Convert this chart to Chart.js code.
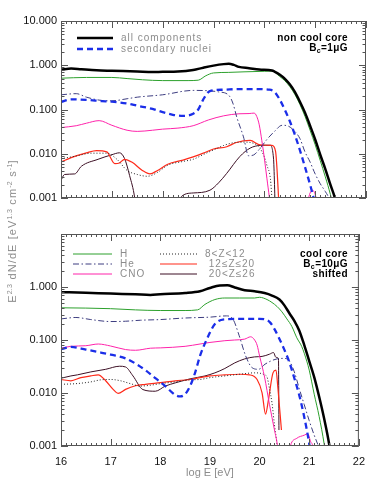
<!DOCTYPE html>
<html>
<head>
<meta charset="utf-8">
<script src="https://cdn.jsdelivr.net/npm/chart.js@4"></script>
<style>
  body { margin: 0; background: #fff; }
  #wrap { position: relative; width: 374px; height: 481px; }
  #wrap canvas { position: absolute; left: 0; top: 0; }
  #ytitle {
    position: absolute; left: -107px; top: 224px; width: 240px; height: 14px;
    line-height: 14px; text-align: center; transform: rotate(-90deg);
    font: 11px "Liberation Sans", sans-serif; color: #8c8c8c; letter-spacing: 1.1px;
    white-space: nowrap;
  }
  #ytitle sup { font-size: 7px; line-height: 0; vertical-align: 4px; letter-spacing: 0.3px; }
</style>
</head>
<body>
<div id="wrap">
  <canvas id="top-chart" width="374" height="481"></canvas>
  <canvas id="bottom-chart" width="374" height="481"></canvas>
  <div id="ytitle">E<sup>2.3</sup> dN/dE [eV<sup>1.3</sup> cm<sup>-2</sup> s<sup>-1</sup>]</div>
</div>
<script>
// axis ticks
const xTicks = [16, 17, 18, 19, 20, 21, 22];
const yTicksTop = [0.001, 0.01, 0.1, 1, 10];
const yTicksBottom = [0.001, 0.01, 0.1, 1];

// series names
const labels = {
  all: 'all components', sec: 'secondary nuclei', H: 'H', He: 'He', CNO: 'CNO',
  mid: '8<Z<12', heavy: ' 12≤Z≤20', fe: ' 20<Z≤26'
};

// panel notes
const topNotes = ['non cool core', 'B_c=1μG'];
const bottomNotes = ['cool core', 'B_c=10μG', 'shifted'];

// ---- top panel: [log E, flux] ----
const topAll = [[16.0,0.79],[16.2,0.84],[16.4,0.81],[16.7,0.77],[17.0,0.75],[17.5,0.72],[17.8,0.70],[18.0,0.71],[18.3,0.72],[18.6,0.78],[18.8,0.88],[19.0,0.98],[19.2,1.06],[19.3,1.08],[19.4,1.02],[19.5,0.92],[19.7,0.86],[19.9,0.80],[20.15,0.76],[20.2,0.72],[20.3,0.62],[20.4,0.50],[20.5,0.37],[20.6,0.25],[20.7,0.15],[20.8,0.085],[20.9,0.043],[21.0,0.021],[21.1,0.0095],[21.2,0.0045],[21.3,0.002],[21.4,0.0009],[21.45,0.0005]];
const topSec = [[16.0,0.148],[16.2,0.17],[16.5,0.165],[16.8,0.155],[17.0,0.15],[17.3,0.137],[17.5,0.122],[17.8,0.103],[18.0,0.087],[18.2,0.076],[18.4,0.072],[18.6,0.08],[18.7,0.10],[18.8,0.17],[18.93,0.26],[19.2,0.28],[19.5,0.29],[19.8,0.29],[20.1,0.28],[20.2,0.25],[20.3,0.17],[20.4,0.10],[20.5,0.055],[20.6,0.027],[20.7,0.012],[20.8,0.005],[20.9,0.002],[20.97,0.001],[21.05,0.0004]];
const topH = [[16.0,0.51],[16.5,0.53],[17.0,0.53],[17.3,0.50],[17.6,0.47],[18.0,0.45],[18.5,0.45],[18.7,0.46],[18.85,0.58],[19.0,0.67],[19.3,0.69],[19.6,0.71],[20.0,0.73],[20.15,0.74],[20.3,0.56],[20.4,0.45],[20.5,0.33],[20.6,0.22],[20.7,0.13],[20.8,0.07],[20.9,0.034],[21.0,0.016],[21.1,0.007],[21.2,0.003],[21.3,0.0012],[21.4,0.0004]];
const topHe = [[16.0,0.215],[16.3,0.228],[16.5,0.19],[16.8,0.16],[17.0,0.157],[17.3,0.175],[17.5,0.19],[18.0,0.215],[18.6,0.27],[18.9,0.265],[19.1,0.25],[19.3,0.21],[19.38,0.14],[19.46,0.066],[19.59,0.024],[19.69,0.009],[19.79,0.0094],[19.92,0.0134],[20.05,0.021],[20.2,0.032],[20.35,0.044],[20.45,0.043],[20.6,0.032],[20.7,0.022],[20.8,0.011],[20.9,0.0065],[21.0,0.0035],[21.1,0.0021],[21.2,0.0014],[21.27,0.001],[21.35,0.0005]];
const topCNO = [[16.0,0.039],[16.3,0.043],[16.5,0.049],[16.75,0.056],[17.0,0.044],[17.3,0.034],[17.5,0.032],[17.8,0.034],[18.0,0.036],[18.3,0.038],[18.6,0.043],[18.9,0.058],[19.2,0.072],[19.5,0.08],[19.7,0.081],[19.8,0.083],[19.85,0.07],[19.9,0.045],[19.95,0.02],[20.0,0.008],[20.05,0.0028],[20.1,0.001],[20.15,0.0003],[20.8,0.0003],[20.87,0.001],[20.95,0.0015],[21.02,0.001],[21.1,0.0003]];
const topMid = [[16.0,0.0077],[16.3,0.0089],[16.6,0.0103],[16.9,0.0103],[17.1,0.0075],[17.3,0.0042],[17.5,0.0034],[17.7,0.0031],[17.9,0.0038],[18.1,0.0055],[18.4,0.0067],[18.6,0.0075],[18.8,0.0096],[19.0,0.0122],[19.2,0.0154],[19.4,0.0178],[19.6,0.0183],[19.8,0.017],[19.9,0.014],[20.0,0.0085],[20.05,0.0055],[20.12,0.0027],[20.15,0.001],[20.2,0.0003]];
const topHeavy = [[16.0,0.0065],[16.2,0.0082],[16.5,0.0105],[16.7,0.0118],[16.9,0.011],[17.06,0.006],[17.15,0.0062],[17.25,0.0075],[17.4,0.0064],[17.6,0.0042],[17.75,0.0035],[17.9,0.0042],[18.1,0.0058],[18.4,0.0072],[18.6,0.0085],[18.8,0.0103],[19.0,0.0128],[19.26,0.0144],[19.45,0.018],[19.72,0.02],[19.92,0.0158],[20.15,0.0155],[20.22,0.0115],[20.28,0.001],[20.3,0.0003]];
const topFe = [[16.0,0.0025],[16.07,0.0034],[16.27,0.0035],[16.4,0.0052],[16.73,0.0075],[17.0,0.0095],[17.15,0.0105],[17.25,0.0078],[17.35,0.0032],[17.45,0.001],[17.5,0.0003],[18.28,0.0003],[18.34,0.001],[18.6,0.0013],[18.93,0.0015],[19.1,0.0022],[19.26,0.0036],[19.52,0.0087],[19.72,0.0134],[19.92,0.0154],[20.11,0.0156],[20.18,0.008],[20.22,0.0003]];

// ---- bottom panel: [log E, flux] ----
const botAll = [[16.0,0.80],[16.5,0.78],[17.0,0.75],[17.5,0.73],[17.8,0.71],[18.0,0.73],[18.5,0.77],[18.8,0.83],[19.0,0.96],[19.2,1.07],[19.35,1.08],[19.5,0.98],[19.7,0.87],[19.9,0.83],[20.1,0.77],[20.25,0.69],[20.4,0.58],[20.5,0.45],[20.6,0.32],[20.7,0.23],[20.8,0.15],[20.9,0.08],[21.0,0.04],[21.1,0.02],[21.2,0.0085],[21.3,0.0033],[21.4,0.0011],[21.45,0.0005]];
const botSec = [[16.0,0.067],[16.2,0.074],[16.5,0.066],[16.8,0.058],[17.0,0.053],[17.3,0.045],[17.5,0.036],[17.7,0.027],[17.9,0.019],[18.1,0.0135],[18.3,0.0092],[18.4,0.0086],[18.5,0.0095],[18.6,0.0135],[18.7,0.024],[18.8,0.05],[18.93,0.10],[19.1,0.2],[19.3,0.245],[19.6,0.25],[20.0,0.25],[20.2,0.22],[20.3,0.16],[20.4,0.105],[20.5,0.065],[20.6,0.038],[20.7,0.019],[20.8,0.009],[20.9,0.0035],[21.0,0.0011],[21.05,0.0005]];
const botH = [[16.0,0.405],[16.5,0.40],[17.0,0.39],[17.5,0.37],[18.0,0.36],[18.5,0.36],[18.75,0.37],[18.9,0.47],[19.1,0.58],[19.3,0.62],[19.6,0.62],[19.9,0.62],[20.0,0.64],[20.15,0.58],[20.25,0.51],[20.35,0.43],[20.45,0.34],[20.55,0.25],[20.65,0.18],[20.75,0.11],[20.85,0.075],[20.95,0.04],[21.0,0.027],[21.1,0.0095],[21.2,0.0036],[21.3,0.0011],[21.35,0.0005]];
const botHe = [[16.0,0.25],[16.3,0.266],[16.6,0.243],[17.0,0.223],[17.3,0.226],[17.6,0.236],[18.0,0.243],[18.5,0.26],[19.0,0.27],[19.33,0.285],[19.46,0.25],[19.59,0.12],[19.72,0.05],[19.85,0.03],[19.98,0.028],[20.11,0.035],[20.35,0.044],[20.5,0.045],[20.6,0.04],[20.7,0.025],[20.8,0.012],[20.9,0.006],[21.0,0.003],[21.1,0.0016],[21.2,0.0009],[21.3,0.0004]];
const botCNO = [[16.0,0.07],[16.2,0.076],[16.5,0.078],[16.75,0.084],[17.0,0.077],[17.3,0.066],[17.5,0.064],[17.8,0.07],[18.0,0.071],[18.5,0.076],[18.8,0.084],[19.0,0.09],[19.3,0.097],[19.5,0.10],[19.7,0.104],[19.82,0.115],[19.9,0.1],[19.95,0.08],[20.0,0.05],[20.1,0.02],[20.2,0.006],[20.3,0.002],[20.36,0.001],[20.4,0.0004],[20.55,0.0004],[20.62,0.001],[20.75,0.0014],[20.9,0.0016],[20.97,0.0017],[21.03,0.0012],[21.07,0.001],[21.12,0.0004]];
const botMid = [[16.0,0.0146],[16.3,0.015],[16.6,0.0162],[16.8,0.0177],[17.0,0.018],[17.2,0.017],[17.4,0.015],[17.6,0.0135],[17.8,0.014],[18.0,0.015],[18.3,0.0162],[18.6,0.0177],[18.8,0.018],[19.0,0.0195],[19.3,0.021],[19.6,0.0226],[19.9,0.024],[20.0,0.0237],[20.1,0.022],[20.15,0.02],[20.2,0.012],[20.25,0.0065],[20.3,0.0025],[20.35,0.0011],[20.4,0.0004]];
const botHeavy = [[16.0,0.018],[16.2,0.017],[16.4,0.0195],[16.6,0.021],[16.75,0.022],[16.9,0.017],[17.05,0.0117],[17.15,0.0098],[17.3,0.0117],[17.5,0.0137],[17.7,0.0146],[18.0,0.0157],[18.3,0.017],[18.6,0.018],[18.8,0.0195],[19.0,0.021],[19.3,0.022],[19.6,0.0226],[19.8,0.022],[19.95,0.018],[20.05,0.0101],[20.12,0.004],[20.18,0.0076],[20.27,0.024],[20.33,0.027],[20.37,0.012],[20.44,0.002]];
const botFe = [[16.0,0.019],[16.2,0.021],[16.33,0.022],[16.6,0.025],[16.9,0.028],[17.18,0.032],[17.3,0.031],[17.45,0.021],[17.65,0.0116],[17.9,0.0108],[18.1,0.0135],[18.3,0.0155],[18.6,0.0185],[18.9,0.021],[19.1,0.024],[19.3,0.029],[19.5,0.037],[19.7,0.044],[19.9,0.048],[20.05,0.049],[20.2,0.054],[20.28,0.058],[20.33,0.047],[20.38,0.045],[20.39,0.002]];

// line styles per series
const styles = {
  all:   { borderColor: '#000000', borderWidth: 2.5 },
  sec:   { borderColor: '#1b2ee8', borderWidth: 2.3, borderDash: [6, 4] },
  H:     { borderColor: '#2ca02c', borderWidth: 1 },
  He:    { borderColor: '#3d3d80', borderWidth: 1, borderDash: [6, 2.5, 1.5, 2.5] },
  CNO:   { borderColor: '#ff22aa', borderWidth: 1 },
  mid:   { borderColor: '#222222', borderWidth: 1, borderDash: [1, 2] },
  heavy: { borderColor: '#ff2a1a', borderWidth: 1.2 },
  fe:    { borderColor: '#3c0f24', borderWidth: 1 }
};

function makeDataset(key, points) {
  return Object.assign({
    label: labels[key],
    data: points.map(p => ({ x: p[0], y: p[1] })),
    pointRadius: 0,
    fill: false,
    cubicInterpolationMode: 'monotone',
    clip: 0
  }, styles[key]);
}

// frame with IDL-style inward ticks
const framePlugin = {
  id: 'frame',
  afterDatasetsDraw(chart) {
    const { ctx, chartArea: a, scales: { x, y } } = chart;
    ctx.save();
    ctx.strokeStyle = '#555';
    ctx.lineWidth = 1;
    ctx.setLineDash([]);
    ctx.strokeRect(a.left + 0.5, a.top + 0.5, a.right - a.left - 1, a.bottom - a.top - 1);
    ctx.beginPath();
    for (let i = 0; i <= 60; i++) {
      const px = Math.round(x.getPixelForValue(16 + i / 10)) + 0.5;
      const len = i % 10 === 0 ? 7 : 3;
      ctx.moveTo(px, a.bottom); ctx.lineTo(px, a.bottom - len);
      ctx.moveTo(px, a.top); ctx.lineTo(px, a.top + len);
    }
    for (let d = -3; d <= 1; d++) {
      for (let m = 1; m <= 9; m++) {
        const v = m * Math.pow(10, d);
        if (v > 10.0001) break;
        const py = Math.round(y.getPixelForValue(v)) + 0.5;
        if (py < a.top || py > a.bottom + 1) continue;
        const len = m === 1 ? 7 : 3.5;
        ctx.moveTo(a.left, py); ctx.lineTo(a.left + len, py);
        ctx.moveTo(a.right, py); ctx.lineTo(a.right - len, py);
      }
    }
    ctx.stroke();
    ctx.restore();
  }
};

// legend lines and panel notes
const textPlugin = {
  id: 'panelText',
  afterDraw(chart, args, opts) {
    const ctx = chart.ctx;
    ctx.save();
    ctx.textBaseline = 'middle';
    (opts.legend || []).forEach(item => {
      const st = styles[item.key];
      ctx.beginPath();
      ctx.setLineDash(st.borderDash || []);
      ctx.lineWidth = st.borderWidth;
      ctx.strokeStyle = st.borderColor;
      ctx.moveTo(item.x, item.y);
      ctx.lineTo(item.x + item.w, item.y);
      ctx.stroke();
      ctx.setLineDash([]);
      ctx.fillStyle = '#8c8c8c';
      ctx.font = '10px "Liberation Sans"';
      ctx.letterSpacing = '1px';
      ctx.textAlign = 'left';
      ctx.fillText(labels[item.key], item.x + item.w + 8, item.y);
    });
    ctx.fillStyle = '#000';
    ctx.letterSpacing = '0.4px';
    (opts.notes || []).forEach((line, i) => {
      const y = opts.noteY + i * opts.noteStep;
      const right = opts.noteX;
      ctx.textAlign = 'left';
      if (line.includes('_')) {
        const [head, tail] = line.split('_');
        const sub = tail[0], rest = tail.slice(1);
        ctx.font = 'bold 10px "Liberation Sans"';
        const w1 = ctx.measureText(head).width;
        const w3 = ctx.measureText(rest).width;
        ctx.font = 'bold 7px "Liberation Sans"';
        const w2 = ctx.measureText(sub).width;
        let x0 = right - w1 - w2 - w3;
        ctx.font = 'bold 10px "Liberation Sans"';
        ctx.fillText(head, x0, y);
        ctx.font = 'bold 7px "Liberation Sans"';
        ctx.fillText(sub, x0 + w1, y + 3);
        ctx.font = 'bold 10px "Liberation Sans"';
        ctx.fillText(rest, x0 + w1 + w2, y);
      } else {
        ctx.font = 'bold 10px "Liberation Sans"';
        ctx.textAlign = 'right';
        ctx.fillText(line, right, y);
      }
    });
    ctx.restore();
  }
};

function makePanel(canvasId, datasets, yTicks, showX, padding, textOpts) {
  const ctx = document.getElementById(canvasId).getContext('2d');
  return new Chart(ctx, {
    type: 'line',
    data: { datasets: datasets },
    options: {
      responsive: false,
      animation: false,
      events: [],
      layout: { padding: padding },
      plugins: { legend: { display: false }, tooltip: { enabled: false }, panelText: textOpts },
      scales: {
        x: {
          type: 'linear', min: 16, max: 22, display: showX,
          grid: { display: false, drawTicks: false },
          border: { display: false },
          afterBuildTicks: s => { s.ticks = xTicks.map(v => ({ value: v })); },
          afterFit: s => { s.height = 35; },
          ticks: { padding: 9, color: '#111', font: { family: 'Liberation Sans', size: 11 }, maxRotation: 0 },
          title: { display: true, text: 'log E [eV]', color: '#8c8c8c',
                   font: { family: 'Liberation Sans', size: 11 }, padding: { top: 0, bottom: 1 } }
        },
        y: {
          type: 'logarithmic', min: 0.001, max: 10,
          grid: { display: false, drawTicks: false },
          border: { display: false },
          afterBuildTicks: s => { s.ticks = yTicks.map(v => ({ value: v })); },
          afterFit: s => { s.width = 61; },
          ticks: { padding: 4, color: '#111', font: { family: 'Liberation Sans', size: 11 },
                   callback: v => Number(v).toFixed(3) }
        }
      }
    },
    plugins: [framePlugin, textPlugin]
  });
}

const topSets = [
  makeDataset('all', topAll), makeDataset('sec', topSec), makeDataset('H', topH),
  makeDataset('He', topHe), makeDataset('CNO', topCNO), makeDataset('mid', topMid),
  makeDataset('heavy', topHeavy), makeDataset('fe', topFe)
];
const bottomSets = [
  makeDataset('all', botAll), makeDataset('sec', botSec), makeDataset('H', botH),
  makeDataset('He', botHe), makeDataset('CNO', botCNO), makeDataset('mid', botMid),
  makeDataset('heavy', botHeavy), makeDataset('fe', botFe)
];

makePanel('top-chart', topSets, yTicksTop, false,
  { left: 0, top: 21, right: 8, bottom: 248 },
  {
    legend: [
      { key: 'all', x: 77, y: 38, w: 36 },
      { key: 'sec', x: 77, y: 49, w: 36 }
    ],
    notes: topNotes, noteX: 348, noteY: 38, noteStep: 10
  });

makePanel('bottom-chart', bottomSets, yTicksBottom, true,
  { left: 0, top: 234, right: 8, bottom: 0 },
  {
    legend: [
      { key: 'H', x: 73, y: 254, w: 39 },
      { key: 'He', x: 73, y: 264, w: 39 },
      { key: 'CNO', x: 73, y: 274, w: 39 },
      { key: 'mid', x: 160, y: 254, w: 37 },
      { key: 'heavy', x: 160, y: 264, w: 37 },
      { key: 'fe', x: 160, y: 274, w: 37 }
    ],
    notes: bottomNotes, noteX: 348, noteY: 254, noteStep: 10
  });
</script>
</body>
</html>
